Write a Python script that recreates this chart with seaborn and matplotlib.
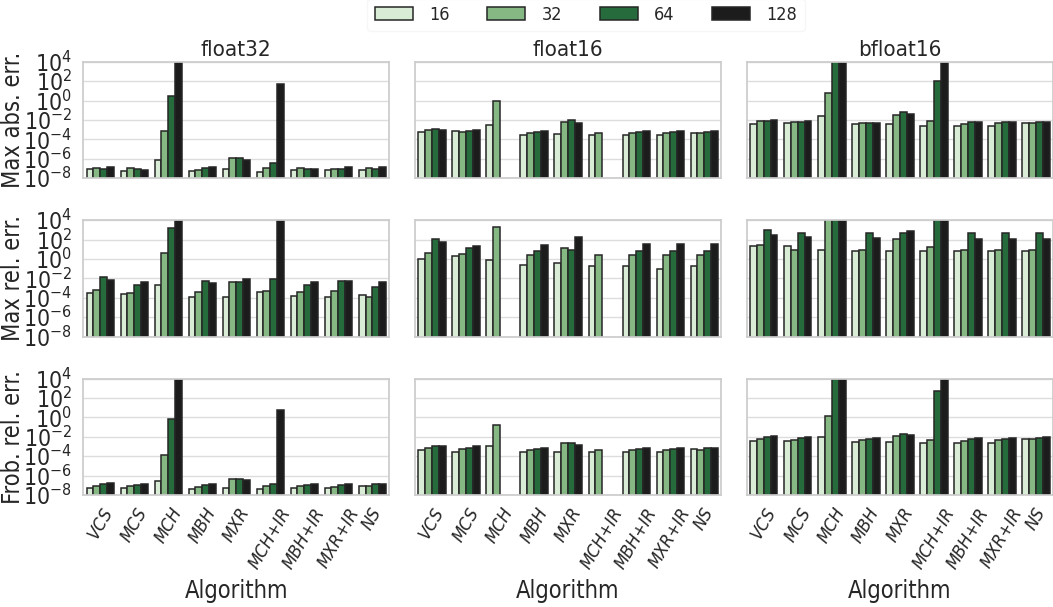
import numpy as np
import pandas as pd
import matplotlib
matplotlib.use("Agg")
import matplotlib.pyplot as plt
import seaborn as sns
from matplotlib.patches import Patch
from matplotlib import font_manager as fm
from matplotlib.ticker import FixedLocator, LogFormatterSciNotation, NullLocator

# ---------------- data ----------------
algorithms = ["VCS", "MCS", "MCH", "MBH", "MXR", "MCH+IR", "MBH+IR", "MXR+IR", "NS"]
sizes = ["16", "32", "64", "128"]
precisions = ["float32", "float16", "bfloat16"]
metrics = ["Max abs. err.", "Max rel. err.", "Frob. rel. err."]
N = np.nan

# log10 of the error, one row per algorithm, columns = sizes 16/32/64/128
# (5.0 = off the top of the axis)
abs_f32 = [[-7.10, -6.96, -7.03, -6.89], [-7.27, -6.96, -7.07, -7.13], [-6.13, -3.16, 0.51, 5.0],
           [-7.31, -7.17, -7.00, -6.82], [-7.07, -5.92, -5.92, -6.13], [-7.34, -7.00, -6.48, 1.68],
           [-7.13, -6.96, -7.03, -7.03], [-7.20, -7.03, -7.07, -6.89], [-7.13, -6.96, -7.03, -6.89]]
abs_f16 = [[-3.23, -3.06, -2.92, -3.03], [-3.16, -3.20, -3.10, -2.99], [-2.55, -0.08, N, N],
           [-3.51, -3.37, -3.23, -3.16], [-3.44, -2.24, -2.00, -2.27], [-3.51, -3.30, N, N],
           [-3.51, -3.30, -3.20, -3.16], [-3.51, -3.30, -3.23, -3.16], [-3.30, -3.30, -3.20, -3.16]]
abs_bf16 = [[-2.38, -2.10, -2.10, -2.03], [-2.34, -2.24, -2.24, -2.14], [-1.59, 0.80, 5.0, 5.0],
            [-2.38, -2.34, -2.28, -2.28], [-2.38, -1.45, -1.21, -1.38], [-2.59, -2.14, 2.03, 5.0],
            [-2.59, -2.41, -2.24, -2.24], [-2.59, -2.34, -2.24, -2.24], [-2.34, -2.34, -2.24, -2.24]]
rel_f32 = [[-3.51, -3.20, -1.86, -2.14], [-3.64, -3.54, -2.65, -2.38], [-2.68, 0.61, 3.21, 5.0],
           [-3.88, -3.44, -2.27, -2.45], [-3.88, -2.41, -2.34, -2.10], [-3.44, -3.27, -2.10, 5.0],
           [-3.82, -3.44, -2.65, -2.38], [-3.88, -3.27, -2.27, -2.27], [-3.71, -3.95, -2.86, -2.38]]
rel_f16 = [[-0.05, 0.64, 2.05, 1.77], [0.33, 0.47, 1.12, 1.33], [-0.15, 3.28, N, N],
           [-0.63, 0.40, 0.78, 1.43], [-0.46, 1.12, 0.88, 2.22], [-0.70, 0.40, N, N],
           [-0.70, 0.40, 0.85, 1.50], [-1.00, 0.40, 0.85, 1.50], [-0.70, 0.40, 0.85, 1.50]]
rel_bf16 = [[1.36, 1.46, 2.97, 2.42], [1.29, 0.95, 2.66, 2.29], [0.91, 5.0, 5.0, 5.0],
            [0.81, 0.95, 2.70, 2.15], [0.81, 2.08, 2.70, 2.90], [0.85, 1.22, 5.0, 5.0],
            [0.85, 0.95, 2.70, 2.08], [0.81, 0.95, 2.70, 2.08], [0.85, 0.95, 2.70, 2.08]]
frob_f32 = [[-7.24, -7.07, -6.90, -6.76], [-7.31, -7.10, -7.00, -6.90], [-6.59, -3.90, -0.17, 3.95],
            [-7.38, -7.17, -7.00, -6.90], [-7.24, -6.38, -6.31, -6.41], [-7.34, -7.10, -6.83, 0.76],
            [-7.31, -7.10, -6.97, -6.83], [-7.31, -7.14, -6.97, -6.90], [-7.10, -7.10, -6.90, -6.83]]
frob_f16 = [[-3.41, -3.17, -3.00, -2.90], [-3.55, -3.31, -3.14, -3.00], [-2.93, -0.81, N, N],
            [-3.62, -3.34, -3.21, -3.14], [-3.55, -2.69, -2.69, -2.83], [-3.62, -3.38, N, N],
            [-3.62, -3.34, -3.21, -3.14], [-3.62, -3.34, -3.21, -3.14], [-3.31, -3.38, -3.14, -3.14]]
frob_bf16 = [[-2.48, -2.21, -2.07, -1.93], [-2.48, -2.31, -2.17, -2.07], [-2.00, 0.17, 5.0, 5.0],
             [-2.55, -2.38, -2.21, -2.14], [-2.55, -1.90, -1.72, -1.86], [-2.62, -2.38, 2.72, 5.0],
             [-2.62, -2.45, -2.24, -2.14], [-2.62, -2.38, -2.21, -2.14], [-2.28, -2.24, -2.14, -2.03]]

panels = [[abs_f32, abs_f16, abs_bf16],
          [rel_f32, rel_f16, rel_bf16],
          [frob_f32, frob_f16, frob_bf16]]

colors = ["#d9ecd5", "#85b883", "#256b3c", "#1c1c1c"]
ytick_exps = [-8, -6, -4, -2, 0, 2, 4]

# ---------------- style ----------------
sns.set_theme(style="whitegrid")
plt.rcParams["font.family"] = ["DejaVu Sans"]
has_cond = any(f.name == "DejaVu Sans" and "ondensed" in f.fname for f in fm.fontManager.ttflist)
if has_cond:
    plt.rcParams["font.stretch"] = "condensed"
    fs_tick, fs_lab, fs_title, fs_xt, fs_leg = 16.5, 17, 16, 13, 13
else:
    fs_tick, fs_lab, fs_title, fs_xt, fs_leg = 15, 15, 15, 12, 12
plt.rcParams["axes.edgecolor"] = "#cccccc"
plt.rcParams["grid.color"] = "#dddddd"

fig, axes = plt.subplots(3, 3, figsize=(10.53, 6.07), dpi=100, sharey=True)
fig.subplots_adjust(left=0.079, right=1.0, top=0.8984, bottom=0.1845, wspace=0.084, hspace=0.36)

for r in range(3):
    for c in range(3):
        ax = axes[r, c]
        vals = panels[r][c]
        rows = []
        for a, alg in enumerate(algorithms):
            for s, sz in enumerate(sizes):
                v = vals[a][s]
                rows.append({"Algorithm": alg, "size": sz,
                             "value": np.nan if np.isnan(v) else 10.0 ** v})
        df = pd.DataFrame(rows)
        sns.barplot(data=df, x="Algorithm", y="value", hue="size",
                    order=algorithms, hue_order=sizes, palette=colors,
                    saturation=1, errorbar=None, edgecolor="#262626",
                    linewidth=1.1, ax=ax, legend=False)
        ax.set_yscale("log")
        ax.set_ylim(1e-8, 1e4)
        ax.yaxis.set_major_locator(FixedLocator([10.0 ** e for e in ytick_exps]))
        ax.yaxis.set_major_formatter(LogFormatterSciNotation())
        ax.yaxis.set_minor_locator(NullLocator())
        ax.tick_params(axis="y", labelsize=fs_tick, pad=2)
        ax.grid(axis="x", visible=False)
        for sp in ax.spines.values():
            sp.set_color("#cccccc")
        if r == 0:
            ax.set_title(precisions[c], fontsize=fs_title, pad=4)
        if c == 0:
            ax.set_ylabel(metrics[r], fontsize=fs_lab)
            ax.yaxis.set_label_coords(-0.19, 0.5)
        else:
            ax.set_ylabel("")
            ax.tick_params(axis="y", labelleft=False)
        if r == 2:
            ax.set_xticks(range(len(algorithms)))
            ax.set_xticklabels(algorithms, rotation=60, fontsize=fs_xt, fontstyle="italic")
            ax.set_xlabel("Algorithm", fontsize=fs_lab, labelpad=5)
            ax.tick_params(axis="x", pad=1)
        else:
            ax.set_xlabel("")
            ax.tick_params(axis="x", labelbottom=False)

handles = [Patch(facecolor=col, edgecolor="#262626", linewidth=1.1, label=s)
           for col, s in zip(colors, sizes)]
leg = fig.legend(handles=handles, loc="lower center", bbox_to_anchor=(0.5565, 0.949),
                 ncol=4, fontsize=fs_leg, frameon=True, handlelength=2.1, handleheight=0.78,
                 handletextpad=0.9, columnspacing=2.1, borderaxespad=0)
leg.get_frame().set_edgecolor("#f4f4f4")

fig.savefig("out.png", dpi=100)
